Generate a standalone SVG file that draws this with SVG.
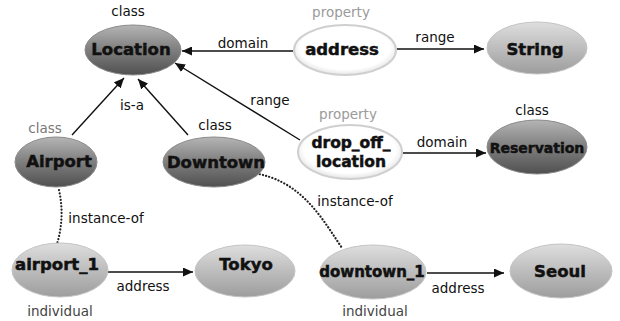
<svg xmlns="http://www.w3.org/2000/svg" width="620" height="321" viewBox="0 0 620 321">
<defs>
<linearGradient id="gDark" x1="0" y1="0" x2="0" y2="1">
<stop offset="0" stop-color="#b5b5b5"/>
<stop offset="0.45" stop-color="#838383"/>
<stop offset="1" stop-color="#505050"/>
</linearGradient>
<linearGradient id="gMid" x1="0" y1="0" x2="0" y2="1">
<stop offset="0" stop-color="#dedede"/>
<stop offset="0.5" stop-color="#bdbdbd"/>
<stop offset="1" stop-color="#9d9d9d"/>
</linearGradient>
<radialGradient id="gLight" cx="0.5" cy="0.45" r="0.55">
<stop offset="0.8" stop-color="#fff"/>
<stop offset="1" stop-color="#e4e4e4"/>
</radialGradient>
<marker id="arr" markerUnits="userSpaceOnUse" markerWidth="10" markerHeight="9" refX="10" refY="4.5" orient="auto">
<path d="M0,0 L10,4.5 L0,9 z" fill="#111"/>
</marker>
</defs>
<style>
.dark{fill:url(#gDark);stroke:#8a8a8a;stroke-width:1}
.mid{fill:url(#gMid);stroke:#c4c4c4;stroke-width:1}
.light{fill:url(#gLight);stroke:#cfcfcf;stroke-width:2}
.nl{font-family:"DejaVu Sans",sans-serif;font-weight:bold;font-size:16.5px;fill:#111;stroke:#111;stroke-width:0.5;text-anchor:middle}
.el{font-family:"DejaVu Sans",sans-serif;font-size:13.5px;fill:#111;text-anchor:middle}
.tag{font-family:"DejaVu Sans",sans-serif;font-size:13.5px;fill:#111;text-anchor:middle}
.tagg{font-family:"DejaVu Sans",sans-serif;font-size:13.5px;fill:#777;text-anchor:middle}
.tagl{font-family:"DejaVu Sans",sans-serif;font-size:13.5px;fill:#9a9a9a;text-anchor:middle}
.edge{stroke:#111;stroke-width:1.4;fill:none;marker-end:url(#arr)}
.dot{stroke:#222;stroke-width:2.2;fill:none;stroke-dasharray:0.1 3.2;stroke-linecap:round}
</style>
<g id="connectors">
<line class="edge" x1="293" y1="51" x2="182" y2="51"/>
<line class="edge" x1="397" y1="49" x2="484" y2="49"/>
<line class="edge" x1="300" y1="140" x2="175" y2="63"/>
<line class="edge" x1="403" y1="153" x2="486" y2="153"/>
<line class="edge" x1="72" y1="135" x2="124" y2="78"/>
<line class="edge" x1="188" y1="135" x2="138" y2="79"/>
<path class="dot" d="M59,190 Q65,217 57,244"/>
<path class="dot" d="M253,173 C300,180 320,215 342,248"/>
<line class="edge" x1="108" y1="272" x2="193" y2="272"/>
<line class="edge" x1="427" y1="273" x2="504" y2="273"/>
<text class="el" x="243" y="48">domain</text>
<text class="el" x="435" y="42">range</text>
<text class="el" x="270" y="105">range</text>
<text class="el" x="442" y="147">domain</text>
<text class="el" x="132" y="110">is-a</text>
<text class="el" x="106" y="223">instance-of</text>
<text class="el" x="355" y="206">instance-of</text>
<text class="el" x="143" y="291">address</text>
<text class="el" x="458" y="293">address</text>
</g>
<g id="Location">
<ellipse class="dark" cx="133" cy="50" rx="48" ry="25"/>
<text class="nl" x="131" y="55">Location</text>
<text class="tag" x="128" y="16">class</text>
</g>
<g id="address">
<ellipse class="light" cx="345" cy="50" rx="51" ry="25"/>
<text class="nl" x="342" y="55">address</text>
<text class="tagl" x="341" y="17">property</text>
</g>
<g id="String">
<ellipse class="mid" cx="537" cy="48" rx="50" ry="26"/>
<text class="nl" x="535" y="55">String</text>
</g>
<g id="drop_off_location">
<ellipse class="light" cx="350" cy="152" rx="52" ry="27"/>
<text class="nl" x="351" y="148" style="font-size:15.5px">drop_off_</text>
<text class="nl" x="351" y="167" style="font-size:15.5px">location</text>
<text class="tagl" x="348" y="119">property</text>
</g>
<g id="Reservation">
<ellipse class="dark" cx="537" cy="147" rx="50" ry="27"/>
<text class="nl" x="537" y="153" style="font-size:14px">Reservation</text>
<text class="tag" x="532" y="115">class</text>
</g>
<g id="Airport">
<ellipse class="dark" cx="56" cy="162" rx="41" ry="25"/>
<text class="nl" x="59" y="167">Airport</text>
<text class="tagg" x="45" y="133">class</text>
</g>
<g id="Downtown">
<ellipse class="dark" cx="214" cy="162" rx="51" ry="25"/>
<text class="nl" x="216" y="168">Downtown</text>
<text class="tag" x="215" y="130">class</text>
</g>
<g id="airport_1">
<ellipse class="mid" cx="60" cy="270" rx="48" ry="27"/>
<text class="nl" x="57" y="270">airport_1</text>
<text class="tag" x="60" y="316" style="fill:#444">individual</text>
</g>
<g id="Tokyo">
<ellipse class="mid" cx="245" cy="271" rx="50" ry="26"/>
<text class="nl" x="246" y="270">Tokyo</text>
</g>
<g id="downtown_1">
<ellipse class="mid" cx="373" cy="272" rx="53" ry="27"/>
<text class="nl" x="372" y="277" style="font-size:15px">downtown_1</text>
<text class="tag" x="375" y="316" style="fill:#444">individual</text>
</g>
<g id="Seoul">
<ellipse class="mid" cx="561" cy="271" rx="51" ry="27"/>
<text class="nl" x="560" y="277">Seoul</text>
</g>
</svg>
